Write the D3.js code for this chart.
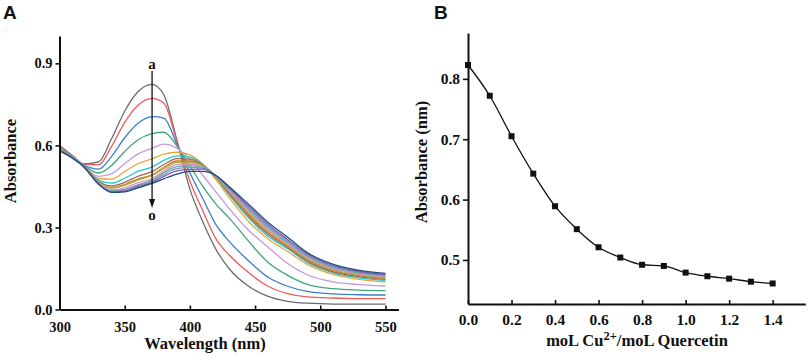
<!DOCTYPE html>
<html>
<head>
<meta charset="utf-8">
<script src="https://cdn.jsdelivr.net/npm/d3@7"></script>
<style>
  body { margin: 0; background: #fff; }
  svg text { font-family: "Liberation Serif", "Times New Roman", serif; font-weight: bold; fill: #111; }
  .axis .domain { stroke: #111; stroke-width: 2; }
  .axis .tick line { stroke: #111; stroke-width: 1.6; }
  .panel-letter { font-family: "Liberation Sans", Arial, sans-serif !important; }
</style>
</head>
<body>
<svg id="chart" width="809" height="357"></svg>
<script>
// ---- data: panel A, UV-vis spectra a..o (absorbance)
var wavelengths = [300, 310, 318, 330, 340, 350, 360, 371, 380, 390, 400, 410, 420, 430, 445, 460, 475, 490, 510, 530, 550];

var curveA = [.600, .562, .532, .540, .625, .725, .795, .823, .785, .620, .440, .320, .220, .150, .085, .048, .030, .023, .020, .020, .020];
var curveB = [.599, .562, .532, .529, .597, .684, .746, .772, .755, .615, .470, .360, .258, .200, .135, .085, .058, .046, .042, .040, .040];
var curveC = [.597, .561, .531, .513, .560, .628, .680, .705, .700, .605, .500, .405, .310, .250, .178, .118, .085, .066, .057, .054, .053];
var curveD = [.595, .560, .530, .499, .527, .578, .620, .643, .648, .598, .525, .450, .385, .335, .250, .172, .125, .092, .076, .071, .069];
var curveE = [.593, .559, .529, .487, .497, .533, .568, .589, .605, .590, .548, .490, .430, .370, .290, .228, .168, .127, .101, .091, .086];
var curveF = [.592, .558, .529, .479, .477, .504, .533, .551, .568, .575, .565, .530, .475, .410, .322, .258, .212, .165, .128, .110, .100];
var curveG = [.591, .558, .528, .472, .462, .480, .505, .521, .545, .562, .557, .530, .482, .420, .335, .268, .222, .172, .134, .116, .106];
var curveH = [.590, .557, .528, .468, .452, .465, .487, .504, .530, .552, .550, .528, .484, .425, .342, .275, .227, .177, .138, .120, .110];
var curveI = [.589, .556, .527, .465, .446, .457, .477, .492, .520, .543, .543, .526, .485, .430, .348, .281, .232, .182, .142, .124, .113];
var curveJ = [.588, .556, .527, .465, .444, .454, .473, .490, .515, .537, .538, .524, .486, .433, .354, .287, .236, .186, .146, .127, .116];
var curveK = [.587, .555, .527, .462, .438, .445, .463, .479, .506, .530, .532, .522, .487, .436, .359, .292, .240, .190, .149, .130, .119];
var curveL = [.586, .555, .526, .460, .434, .439, .456, .473, .500, .522, .526, .520, .488, .440, .365, .298, .245, .194, .152, .133, .122];
var curveM = [.585, .554, .526, .460, .432, .436, .453, .469, .494, .515, .520, .517, .489, .443, .371, .304, .250, .198, .156, .136, .125];
var curveN = [.583, .554, .525, .459, .430, .433, .449, .464, .487, .507, .512, .513, .490, .446, .377, .310, .256, .203, .160, .139, .128];
var curveO = [.580, .553, .525, .458, .428, .430, .445, .461, .478, .495, .505, .505, .490, .450, .385, .318, .264, .208, .165, .143, .132];

var spectra = [curveA, curveB, curveC, curveD, curveE, curveF, curveG, curveH, curveI, curveJ, curveK, curveL, curveM, curveN, curveO];
var spectraColors = ["#6b6b6b", "#ee5b5b", "#3a7dc9", "#3da57a", "#c896e0", "#e1a93b", "#21c2d1", "#9c6b55",
                     "#d9731c", "#a3b04a", "#e38fc0", "#5fb39b", "#8d8dc0", "#7a5cb8", "#1e4f7a"];
var xTicksA = [300, 350, 400, 450, 500, 550];
var yTicksA = [0.0, 0.3, 0.6, 0.9];

// ---- data: panel B, absorbance at 371 nm vs ratio
var ratioB = [0.0, 0.1, 0.2, 0.3, 0.4, 0.5, 0.6, 0.7, 0.8, 0.9, 1.0, 1.1, 1.2, 1.3, 1.4];
var absB = [0.823, 0.772, 0.705, 0.643, 0.589, 0.551, 0.521, 0.504, 0.492, 0.490, 0.479, 0.473, 0.469, 0.464, 0.461];
var xTicksB = [0.0, 0.2, 0.4, 0.6, 0.8, 1.0, 1.2, 1.4];
var yTicksB = [0.5, 0.6, 0.7, 0.8];

var svg = d3.select("#chart");
var fmt = d3.format(".1f");

// **************************
// Panel A
var xA = d3.scaleLinear().domain([300, 560]).range([59.5, 398.5]),
    yA = d3.scaleLinear().domain([0, 1.0]).range([309.5, 36]);

var lineA = d3.line()
    .x(function(d, i) { return xA(wavelengths[i]); })
    .y(function(d) { return yA(d); })
    .curve(d3.curveMonotoneX);

svg.append("g").selectAll("path")
    .data(spectra)
    .enter().append("path")
    .attr("fill", "none")
    .attr("stroke", function(d, i) { return spectraColors[i]; })
    .attr("stroke-width", 1.3)
    .attr("d", lineA);

svg.append("g")
    .attr("class", "axis")
    .attr("transform", "translate(0," + yA(0) + ")")
    .call(d3.axisBottom(xA).tickValues(xTicksA).tickSizeInner(-4).tickSizeOuter(0).tickPadding(12))
    .selectAll("text").style("font-size", "14.5px");

svg.append("g")
    .attr("class", "axis")
    .attr("transform", "translate(" + xA(300) + ",0)")
    .call(d3.axisLeft(yA).tickValues(yTicksA).tickFormat(fmt).tickSizeInner(4).tickSizeOuter(0).tickPadding(3))
    .selectAll("text").style("font-size", "14.5px");

// arrow a -> o
var arrowX = xA(371);
svg.append("line")
    .attr("x1", arrowX).attr("x2", arrowX)
    .attr("y1", 71).attr("y2", 200)
    .attr("stroke", "#111").attr("stroke-width", 1.3);
svg.append("path")
    .attr("d", "M" + (arrowX - 3) + ",199L" + (arrowX + 3) + ",199L" + arrowX + ",208Z")
    .attr("fill", "#111");
svg.append("text").attr("x", arrowX).attr("y", 69).attr("text-anchor", "middle")
    .style("font-size", "15px").text("a");
svg.append("text").attr("x", arrowX).attr("y", 219.5).attr("text-anchor", "middle")
    .style("font-size", "15px").text("o");

svg.append("text") // x-axis label
    .attr("x", 205).attr("y", 349).attr("text-anchor", "middle")
    .style("font-size", "16.5px").text("Wavelength (nm)");
svg.append("text") // y-axis label
    .attr("transform", "translate(16,161) rotate(-90)").attr("text-anchor", "middle")
    .style("font-size", "16.5px").text("Absorbance");
svg.append("text").attr("class", "panel-letter")
    .attr("x", 3).attr("y", 18.5).style("font-size", "19px").text("A");

// **************************
// Panel B
var xB = d3.scaleLinear().domain([0, 1.55]).range([468, 805.3]),
    yB = d3.scaleLinear().domain([0.427, 0.876]).range([304, 33]);

var lineB = d3.line()
    .x(function(d, i) { return xB(ratioB[i]); })
    .y(function(d) { return yB(d); })
    .curve(d3.curveMonotoneX);

svg.append("path")
    .datum(absB)
    .attr("fill", "none")
    .attr("stroke", "#111")
    .attr("stroke-width", 1.3)
    .attr("d", lineB);

svg.append("g").selectAll("rect")
    .data(absB)
    .enter().append("rect")
    .attr("x", function(d, i) { return xB(ratioB[i]) - 3; })
    .attr("y", function(d) { return yB(d) - 3; })
    .attr("width", 6).attr("height", 6)
    .attr("fill", "#111");

svg.append("g")
    .attr("class", "axis")
    .attr("transform", "translate(0," + yB.range()[0] + ")")
    .call(d3.axisBottom(xB).tickValues(xTicksB).tickFormat(fmt).tickSizeInner(-4).tickSizeOuter(0).tickPadding(10))
    .selectAll("text").style("font-size", "15.5px");

svg.append("g")
    .attr("class", "axis")
    .attr("transform", "translate(" + xB(0) + ",0)")
    .call(d3.axisLeft(yB).tickValues(yTicksB).tickFormat(fmt).tickSizeInner(5).tickSizeOuter(0).tickPadding(3))
    .selectAll("text").style("font-size", "15.5px");

var xLabelB = svg.append("text")
    .attr("x", 637).attr("y", 345.5).attr("text-anchor", "middle")
    .style("font-size", "16.5px");
xLabelB.append("tspan").text("moL Cu");
xLabelB.append("tspan").attr("dy", -6).style("font-size", "12.5px").text("2+");
xLabelB.append("tspan").attr("dy", 6).text("/moL Quercetin");

svg.append("text")
    .attr("transform", "translate(427,162) rotate(-90)").attr("text-anchor", "middle")
    .style("font-size", "16.5px").text("Absorbance (nm)");
svg.append("text").attr("class", "panel-letter")
    .attr("x", 434).attr("y", 18.5).style("font-size", "19px").text("B");
</script>
</body>
</html>
